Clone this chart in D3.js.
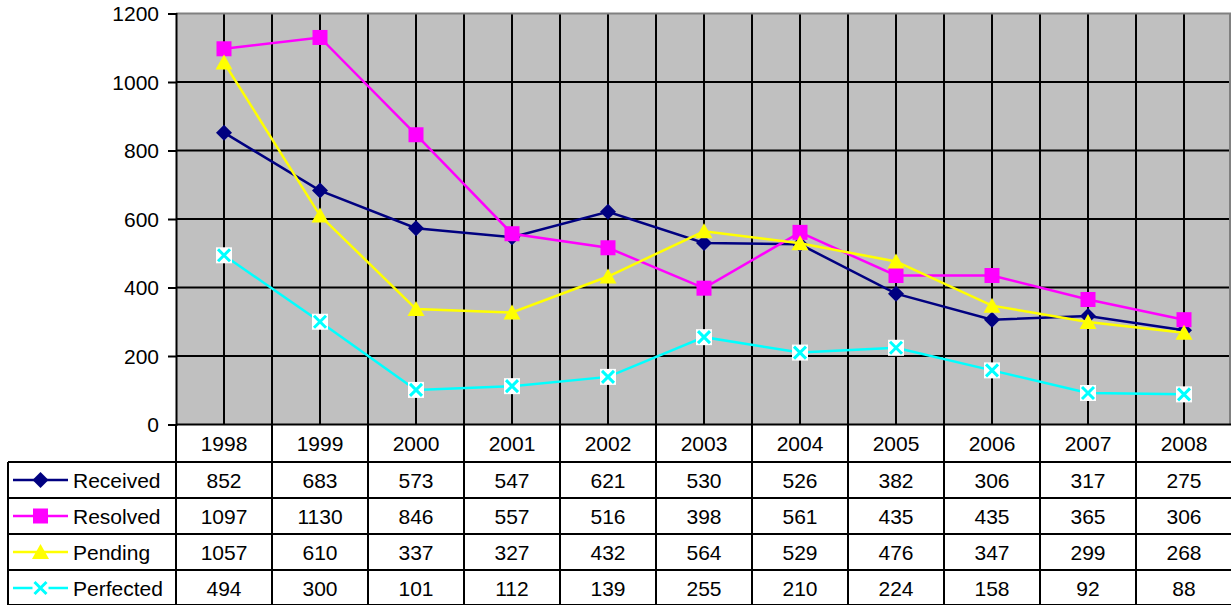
<!DOCTYPE html>
<html><head><meta charset="utf-8">
<script src="https://cdn.jsdelivr.net/npm/d3@7"></script>
<style>
body{margin:0;background:#fff;}
svg{display:block;font-family:"Liberation Sans",Arial,sans-serif;}
</style></head>
<body>
<svg id="c" width="1231" height="605"></svg>
<script>
const years = ["1998","1999","2000","2001","2002","2003","2004","2005","2006","2007","2008"];
const received  = [852,683,573,547,621,530,526,382,306,317,275];
const resolved  = [1097,1130,846,557,516,398,561,435,435,365,306];
const pending   = [1057,610,337,327,432,564,529,476,347,299,268];
const perfected = [494,300,101,112,139,255,210,224,158,92,88];
const yTicks = [0,200,400,600,800,1000,1200];
const seriesNames = ["Received","Resolved","Pending","Perfected"];
const seriesColors = ["#000080","#FF00FF","#FFFF00","#00FFFF"];
const seriesShapes = ["diamond","square","triangle","x"];

(function(){
const FS = 21;
const series = seriesNames.map((n,i)=>({name:n,color:seriesColors[i],shape:seriesShapes[i],
  values:[received,resolved,pending,perfected][i]}));

const svg = d3.select("#c");
const pL = 176, pR = 1232, pT = 13.5, pB = 424.5;
const x = d3.scaleBand().domain(years).range([pL,pR]);
const cx = d => x(d) + x.bandwidth()/2;
const y = d3.scaleLinear().domain([0,1200]).range([pB,pT]);

svg.append("rect").attr("x",pL).attr("y",pT).attr("width",pR-pL).attr("height",pB-pT).attr("fill","#C0C0C0");

svg.append("g").selectAll("line").data(yTicks.filter(t=>t>0&&t<1200)).join("line")
  .attr("x1",pL).attr("x2",pR).attr("y1",d=>y(d)).attr("y2",d=>y(d))
  .attr("stroke","#000").attr("stroke-width",2);
const vlines = [];
years.forEach((yr,i)=>{ vlines.push(cx(yr)); if(i>0) vlines.push(x(yr)); });
svg.append("g").selectAll("line").data(vlines).join("line")
  .attr("x1",d=>d).attr("x2",d=>d).attr("y1",pT).attr("y2",pB)
  .attr("stroke","#000").attr("stroke-width",2);
svg.append("line").attr("x1",pL).attr("x2",pR).attr("y1",pT).attr("y2",pT).attr("stroke","#808080").attr("stroke-width",2);
svg.append("line").attr("x1",1230).attr("x2",1230).attr("y1",pT).attr("y2",pB).attr("stroke","#808080").attr("stroke-width",2);

const yAxis = d3.axisLeft(y).tickValues(yTicks).tickFormat(d3.format("d")).tickSize(8).tickPadding(9);
const ga = svg.append("g").attr("transform",`translate(${pL},0)`).call(yAxis);
ga.select(".domain").attr("stroke","#000").attr("stroke-width",2);
ga.selectAll(".tick line").attr("stroke","#000").attr("stroke-width",2);
ga.selectAll(".tick text").attr("font-size",FS).attr("fill","#000")
  .attr("font-family","'Liberation Sans',Arial,sans-serif").attr("dy","0.35em");

function marker(g, shape, color){
  if(shape==="diamond"){
    g.append("path").attr("d","M0,-8L8,0L0,8L-8,0Z").attr("fill",color);
  } else if(shape==="square"){
    g.append("rect").attr("x",-7.5).attr("y",-7.5).attr("width",15).attr("height",15).attr("fill",color);
  } else if(shape==="triangle"){
    g.append("path").attr("d","M0,-8L8.5,7L-8.5,7Z").attr("fill",color);
  } else if(shape==="x"){
    g.append("rect").attr("x",-8).attr("y",-8).attr("width",16).attr("height",16).attr("fill","#fff");
    g.append("path").attr("d","M-6,-6L6,6M6,-6L-6,6").attr("stroke",color).attr("stroke-width",3);
  }
}

const line = d3.line().x((d,i)=>cx(years[i])).y(d=>y(d));
series.forEach(s=>{
  const g = svg.append("g");
  g.append("path").datum(s.values).attr("d",line).attr("fill","none")
    .attr("stroke",s.color).attr("stroke-width",2.5);
  s.values.forEach((v,i)=>{
    const m = g.append("g").attr("transform",`translate(${cx(years[i])},${y(v)})`);
    marker(m,s.shape,s.color);
  });
});

const tLeft = 8, headTop = pB, headBot = 462, rowH = 36;
const rowTops = series.map((s,i)=>headBot + i*rowH);
const tBot = headBot + series.length*rowH;
const tg = svg.append("g");
tg.selectAll("text.yr").data(years).join("text").attr("class","yr")
  .attr("x",d=>cx(d)).attr("y",(headTop+headBot)/2+7.5).attr("text-anchor","middle")
  .attr("font-size",FS).text(d=>d);
[headBot, ...rowTops.slice(1), tBot-1].forEach(yy=>{
  tg.append("line").attr("x1",tLeft).attr("x2",pR).attr("y1",yy).attr("y2",yy).attr("stroke","#000").attr("stroke-width",2);
});
tg.append("line").attr("x1",tLeft).attr("x2",tLeft).attr("y1",headBot).attr("y2",tBot).attr("stroke","#000").attr("stroke-width",2);
tg.append("line").attr("x1",pL).attr("x2",pL).attr("y1",headTop).attr("y2",tBot).attr("stroke","#000").attr("stroke-width",2);
years.slice(1).forEach(yr=>{
  tg.append("line").attr("x1",x(yr)).attr("x2",x(yr)).attr("y1",headTop).attr("y2",tBot).attr("stroke","#000").attr("stroke-width",2);
});
series.forEach((s,i)=>{
  const cy = rowTops[i] + rowH/2;
  tg.append("line").attr("x1",13).attr("x2",68).attr("y1",cy).attr("y2",cy).attr("stroke",s.color).attr("stroke-width",2.5);
  const m = tg.append("g").attr("transform",`translate(40.5,${cy})`);
  marker(m,s.shape,s.color);
  tg.append("text").attr("x",73).attr("y",cy+7.5).attr("font-size",FS).text(s.name);
  tg.selectAll(null).data(s.values).join("text")
    .attr("x",(d,j)=>cx(years[j])).attr("y",cy+7.5).attr("text-anchor","middle")
    .attr("font-size",FS).text(d=>d);
});
svg.append("line").attr("x1",pL).attr("x2",pR).attr("y1",pB).attr("y2",pB).attr("stroke","#000").attr("stroke-width",2);
})();
</script>
</body></html>
